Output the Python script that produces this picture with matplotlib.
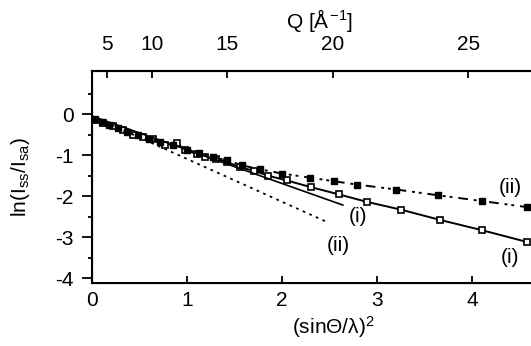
import numpy as np
import matplotlib
matplotlib.use("Agg")
from matplotlib import pyplot as plt

plt.rcParams['font.family'] = ['Liberation Sans', 'DejaVu Sans']
plt.rcParams['axes.unicode_minus'] = False
plt.rcParams['mathtext.fontset'] = 'custom'
plt.rcParams['mathtext.rm'] = 'Liberation Sans'
plt.rcParams['mathtext.it'] = 'Liberation Sans'

x_i = [0.03, 0.12, 0.22, 0.33, 0.43, 0.54, 0.64, 0.77, 0.89, 0.98, 1.1, 1.19,
       1.3, 1.42, 1.56, 1.7, 1.85, 2.05, 2.3, 2.6, 2.89, 3.25, 3.66, 4.1, 4.58]
y_i = [-0.15, -0.22, -0.3, -0.4, -0.5, -0.56, -0.62, -0.76, -0.7, -0.88, -0.97,
       -1.05, -1.09, -1.17, -1.3, -1.38, -1.5, -1.62, -1.78, -1.96, -2.14,
       -2.33, -2.58, -2.83, -3.12]

x_ii = [0.03, 0.1, 0.18, 0.27, 0.37, 0.48, 0.6, 0.72, 0.85, 1.0, 1.13, 1.27,
        1.42, 1.58, 1.77, 2.0, 2.29, 2.55, 2.79, 3.2, 3.64, 4.1, 4.58]
y_ii = [-0.12, -0.2, -0.26, -0.35, -0.44, -0.52, -0.6, -0.68, -0.75, -0.87,
        -0.95, -1.05, -1.13, -1.25, -1.35, -1.45, -1.55, -1.64, -1.72, -1.84,
        -1.98, -2.12, -2.27]

fit_x_i = [0.0, 2.64]
fit_y_i = [-0.05, -2.22]
fit_x_ii = [0.0, 2.47]
fit_y_ii = [-0.05, -2.63]

q_ticks = [5, 10, 15, 20, 25]

fs = 15

fig = plt.figure(figsize=(5.31, 3.46), dpi=100)
ax = fig.add_axes([92/531, 1-283/346, 1-92/531, (283-71)/346])

ax.plot(x_i, y_i, '-', color='k', lw=1.4, marker='s', ms=5,
        mfc='white', mec='k', mew=1.2)
ax.plot(x_ii, y_ii, color='k', lw=1.4, ls=(0, (5, 3, 1.5, 2, 1.5, 3)),
        marker='s', ms=4.5, mfc='k', mec='k')
ax.plot(fit_x_i, fit_y_i, '-', color='k', lw=1.2)
ax.plot(fit_x_ii, fit_y_ii, color='k', lw=1.3, ls=(0, (1.5, 2.5)))

ax.text(2.59, -3.2, '(ii)', fontsize=fs, ha='center', va='center')
ax.text(2.8, -2.51, '(i)', fontsize=fs, ha='center', va='center')
ax.text(4.4, -1.8, '(ii)', fontsize=fs, ha='center', va='center')
ax.text(4.4, -3.49, '(i)', fontsize=fs, ha='center', va='center')

ax.set_xlim(0, 4.62)
ax.set_ylim(-4.12, 1.05)
ax.set_xticks([0, 1, 2, 3, 4])
ax.set_yticks([0, -1, -2, -3, -4])
ax.set_yticks([0.5, -0.5, -1.5, -2.5, -3.5], minor=True)
ax.tick_params(axis='x', direction='in', length=5, width=1.3,
               labelsize=fs, pad=6)
ax.tick_params(axis='y', which='major', direction='out', length=7, width=1.3,
               labelsize=fs, pad=6)
ax.tick_params(axis='y', which='minor', direction='out', length=3, width=1.3)
ax.spines['right'].set_visible(False)
for s in ['left', 'bottom', 'top']:
    ax.spines[s].set_linewidth(1.5)

ax.set_xlabel(r'(sin$\Theta$/$\lambda$)$^2$', fontsize=fs, va='center')
ax.xaxis.set_label_coords((333-92)/(531-92), -(327-283)/212)
ax.set_ylabel(r'ln(I$_{ss}$/I$_{sa}$)', fontsize=fs, va='center')
ax.yaxis.set_label_coords((20-92)/(531-92), 0.5)

# top axis in Q
top = ax.twiny()
top.set_xlim(ax.get_xlim())
top.set_xticks([(q / (4*np.pi))**2 for q in q_ticks])
top.set_xticklabels([str(q) for q in q_ticks])
top.tick_params(axis='x', direction='in', length=5, width=1.3,
                labelsize=fs, pad=12)
top.spines['right'].set_visible(False)
top.spines['top'].set_linewidth(1.5)
top.set_xlabel(r'Q [$\AA^{-1}$]', fontsize=fs, va='center')
top.xaxis.set_label_coords((320-92)/(531-92), (283-20)/212)

fig.savefig("out.png", dpi=100)
plt.close()
